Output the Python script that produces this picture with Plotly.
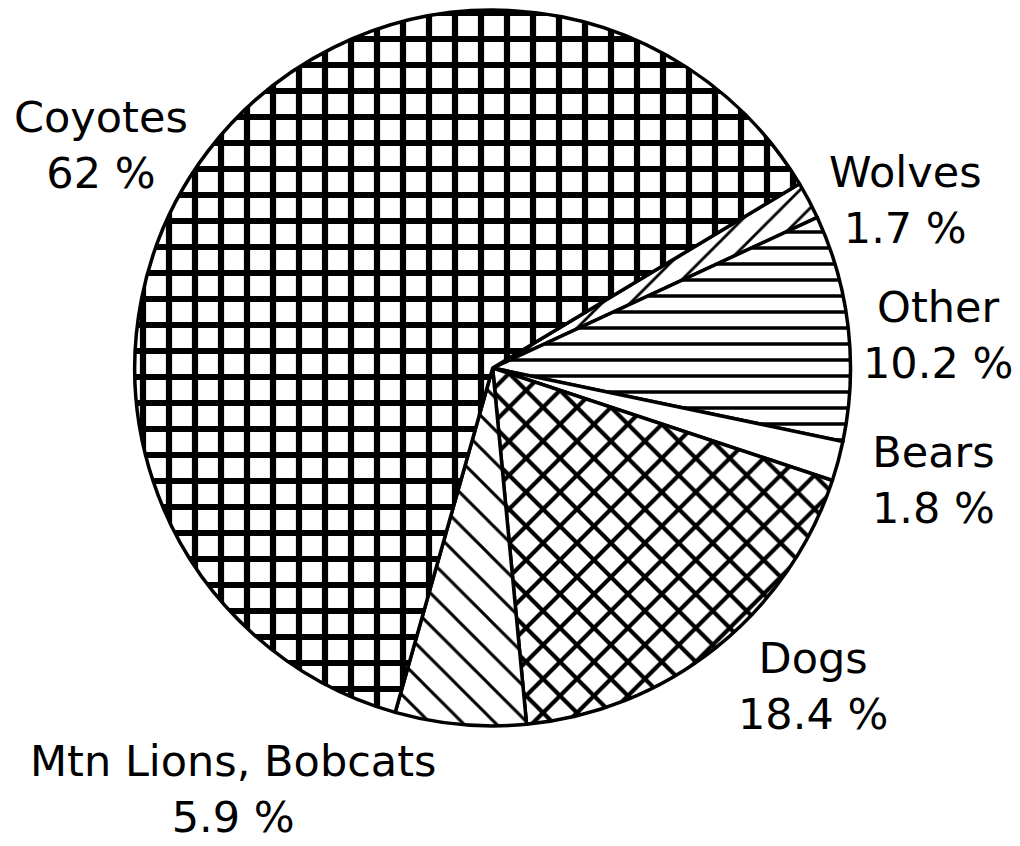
import plotly.graph_objects as go

# Data (clockwise from the Coyotes/Wolves boundary)
labels = ["Wolves", "Other", "Bears", "Dogs", "Mtn Lions, Bobcats", "Coyotes"]
values = [1.7, 10.2, 1.8, 18.4, 5.9, 62]
pct_text = ["1.7 %", "10.2 %", "1.8 %", "18.4 %", "5.9 %", "62 %"]

# Styles
shapes = ["/", "-", "", "x", "\\", "+"]
sizes = [20, 16, 16, 24, 23, 26]
solidity = [0.14, 0.22, 0.2, 0.32, 0.13, 0.42]
# label placement (pixels from top-left): centre x, centre y of the two-line block
label_x = [905, 938, 933, 813, 233, 101]
label_y = [200, 335, 480, 686, 789, 145]

W, H = 1020, 846

fig = go.Figure(go.Pie(
    labels=labels,
    values=values,
    sort=False,
    direction="clockwise",
    rotation=59,
    textinfo="none",
    hoverinfo="label+percent",
    marker=dict(
        colors=["white"] * len(labels),
        line=dict(color="black", width=3.5),
        pattern=dict(shape=shapes, size=sizes, solidity=solidity,
                     fgcolor="black", bgcolor="white", fillmode="replace"),
    ),
    domain=dict(x=[0.132, 0.834], y=[0.142, 0.988]),
))

font = dict(family="DejaVu Sans", size=43, color="black")
for lx, ly, name, pt in zip(label_x, label_y, labels, pct_text):
    fig.add_annotation(x=lx / W, y=1 - ly / H, xref="paper", yref="paper",
                       text=f"{name}<br>{pt}", showarrow=False, font=font,
                       xanchor="center", yanchor="middle", align="center")

fig.update_layout(width=W, height=H, margin=dict(l=0, r=0, t=0, b=0),
                  showlegend=False, paper_bgcolor="white", plot_bgcolor="white")
fig.write_html("out.html", config={"displayModeBar": False},
               post_script="document.body.style.margin='0px';")
